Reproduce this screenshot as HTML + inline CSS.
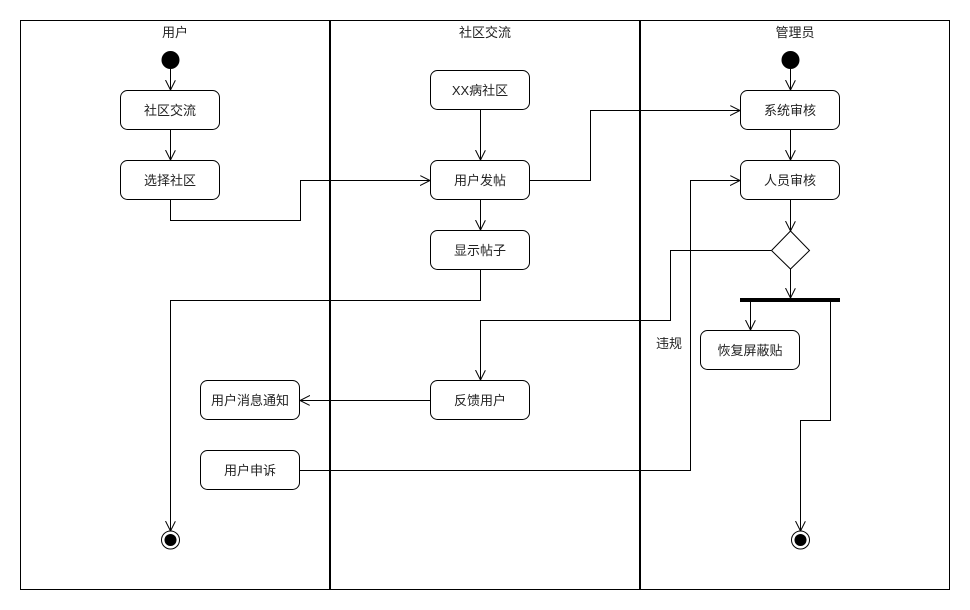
<!DOCTYPE html>
<html><head><meta charset="utf-8"><style>
html,body{margin:0;padding:0;background:#fff;}
svg{display:block;}
text{font-family:"Liberation Sans","Noto Sans CJK SC",sans-serif;font-size:13px;fill:#222;}
</style></head><body>
<svg width="970" height="610" viewBox="0 0 970 610" xmlns="http://www.w3.org/2000/svg">
<defs>
<marker id="a" markerWidth="12" markerHeight="12" refX="10" refY="5" orient="auto" markerUnits="userSpaceOnUse">
<path d="M0,0 L10,5 L0,10" fill="none" stroke="#000" stroke-width="1"/>
</marker>
</defs>
<rect x="20.5" y="20.5" width="929" height="569" fill="none" stroke="#000"/>
<line x1="330" y1="20" x2="330" y2="590" stroke="#000" stroke-width="2"/>
<line x1="640" y1="20" x2="640" y2="590" stroke="#000" stroke-width="2"/>
<text x="175" y="37" text-anchor="middle">用户</text>
<text x="485" y="37" text-anchor="middle">社区交流</text>
<text x="795" y="37" text-anchor="middle">管理员</text>
<g fill="none" stroke="#000" stroke-width="1">
<path d="M170.5,69 V90" marker-end="url(#a)"/>
<path d="M170.5,130 V160" marker-end="url(#a)"/>
<path d="M170.5,200 V220.5 H300.5 V180.5 H430" marker-end="url(#a)"/>
<path d="M480.5,110 V160" marker-end="url(#a)"/>
<path d="M530,180.5 H590.5 V110.5 H740" marker-end="url(#a)"/>
<path d="M790.5,69 V90" marker-end="url(#a)"/>
<path d="M790.5,130 V160" marker-end="url(#a)"/>
<path d="M480.5,200 V230" marker-end="url(#a)"/>
<path d="M790.5,200 V231" marker-end="url(#a)"/>
<path d="M480.5,270 V300.5 H170.5 V531" marker-end="url(#a)"/>
<path d="M771,250.5 H670.5 V320.5 H480.5 V380" marker-end="url(#a)"/>
<path d="M790.5,269 V298" marker-end="url(#a)"/>
<path d="M750.5,302 V330" marker-end="url(#a)"/>
<path d="M830.5,302 V420.5 H800.5 V531" marker-end="url(#a)"/>
<path d="M430,400.5 H300" marker-end="url(#a)"/>
<path d="M300,470.5 H690.5 V180.5 H740" marker-end="url(#a)"/>
</g>
<g fill="#fff" stroke="#000" stroke-width="1">
<rect x="120.5" y="90.5" width="99" height="39" rx="7"/>
<rect x="120.5" y="160.5" width="99" height="39" rx="7"/>
<rect x="430.5" y="70.5" width="99" height="39" rx="7"/>
<rect x="430.5" y="160.5" width="99" height="39" rx="7"/>
<rect x="430.5" y="230.5" width="99" height="39" rx="7"/>
<rect x="430.5" y="380.5" width="99" height="39" rx="7"/>
<rect x="200.5" y="380.5" width="99" height="39" rx="7"/>
<rect x="200.5" y="450.5" width="99" height="39" rx="7"/>
<rect x="740.5" y="90.5" width="99" height="39" rx="7"/>
<rect x="740.5" y="160.5" width="99" height="39" rx="7"/>
<rect x="700.5" y="330.5" width="99" height="39" rx="7"/>
<path d="M790.5,231 L809.5,250.5 L790.5,269 L771.5,250.5 Z"/>
<circle cx="170.5" cy="540" r="9"/>
<circle cx="800.5" cy="540" r="9"/>
</g>
<circle cx="170.5" cy="60" r="9" fill="#000"/>
<circle cx="790.5" cy="60" r="9" fill="#000"/>
<circle cx="170.5" cy="540" r="6" fill="#000"/>
<circle cx="800.5" cy="540" r="6" fill="#000"/>
<rect x="740" y="298" width="100" height="4" fill="#000"/>
<g text-anchor="middle">
<text x="170" y="115">社区交流</text>
<text x="170" y="185">选择社区</text>
<text x="480" y="95">XX病社区</text>
<text x="480" y="185">用户发帖</text>
<text x="480" y="255">显示帖子</text>
<text x="480" y="405">反馈用户</text>
<text x="250" y="405">用户消息通知</text>
<text x="250" y="475">用户申诉</text>
<text x="790" y="115">系统审核</text>
<text x="790" y="185">人员审核</text>
<text x="750" y="355">恢复屏蔽贴</text>
<text x="669" y="348">违规</text>
</g>
</svg>
</body></html>
